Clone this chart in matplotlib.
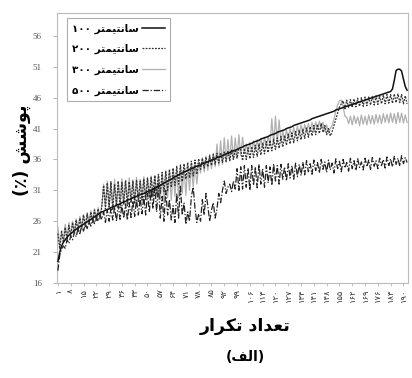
import matplotlib
matplotlib.use("Agg")
import matplotlib.pyplot as plt
from matplotlib.lines import Line2D

# ---------------- data ----------------
s100 = [19.5, 21.0, 22.0, 22.6, 23.0, 23.4, 23.7, 24.0, 24.2, 24.5,
        24.7, 24.9, 25.1, 25.3, 25.5, 25.7, 25.9, 26.1, 26.3, 26.5, 26.7, 26.9, 27.1, 27.3, 27.5,
        27.6, 27.8, 27.9, 28.0, 28.2, 28.3, 28.4, 28.6, 28.7, 28.8, 29.0, 29.1, 29.2, 29.4, 29.5,
        29.6, 29.8, 29.9, 30.0, 30.2, 30.3, 30.4, 30.5, 30.6, 30.8, 30.9, 31.0,
        31.2, 31.3, 31.5, 31.7, 31.8, 32.0, 32.2, 32.3, 32.5, 32.7, 32.8, 33.0, 33.2, 33.3, 33.5,
        33.7, 33.8, 34.0, 34.1, 34.2, 34.4, 34.5,
        34.6, 34.8, 34.9, 35.0, 35.1, 35.3, 35.4, 35.5, 35.6, 35.8, 35.9, 36.0, 36.1, 36.3, 36.4,
        36.5, 36.6, 36.8, 36.9, 37.0, 37.1, 37.3, 37.4, 37.5, 37.6, 37.8,
        37.9, 38.0, 38.2, 38.3, 38.4, 38.5, 38.6, 38.8, 38.9, 39.0, 39.1, 39.3, 39.4, 39.5, 39.6,
        39.7, 39.9, 40.0, 40.1, 40.2, 40.4, 40.5, 40.6, 40.7, 40.8, 41.0, 41.1, 41.2, 41.3, 41.5,
        41.6, 41.7, 41.8,
        41.9, 42.0, 42.1, 42.2, 42.3, 42.4, 42.6, 42.7, 42.8, 42.9, 43.0, 43.1, 43.2, 43.3, 43.4,
        43.5, 43.6, 43.7, 43.8, 44.0, 44.1, 44.2, 44.3, 44.4, 44.5,
        44.6, 44.7, 44.8, 44.9, 45.0, 45.1, 45.2, 45.3, 45.4, 45.5, 45.6, 45.7, 45.8, 45.9, 46.0,
        46.1, 46.2, 46.3, 46.4, 46.5, 46.6, 46.7, 46.8, 46.9, 47.0,
        47.4, 48.8, 50.4, 50.6, 50.6, 50.3, 49.0, 47.8, 47.2]

s200 = [24.0, 21.5, 24.5, 22.5, 25.0, 23.0, 25.3, 23.5, 25.8, 24.0,
        26.2, 24.3, 26.5, 24.8, 27.0, 25.0, 27.2, 25.4, 27.5, 25.8, 27.8, 26.0, 28.0, 26.4, 28.3,
        31.8, 28.0, 32.2, 28.3, 32.4, 27.8, 32.0, 28.5, 32.5, 28.2,
        32.3, 28.8, 32.6, 28.5, 32.4, 29.0, 32.5, 28.8, 32.7, 29.2,
        32.5, 29.4, 32.8, 29.5, 33.0, 29.8, 33.2, 30.0, 33.4, 30.3,
        33.6, 30.5, 33.9, 30.8, 34.1, 31.0, 34.4, 31.5, 34.6, 31.8,
        34.9, 32.0, 35.1, 32.4, 35.3, 32.8, 35.5, 33.0, 35.7, 33.3, 35.9, 33.6, 36.1,
        34.4, 36.2, 34.6, 36.4, 34.8, 36.6, 35.0, 36.8, 35.2, 37.0,
        35.4, 37.1, 35.5, 37.2, 35.7, 37.4, 35.8, 37.5, 36.0, 37.6, 36.2, 37.7,
        37.6, 35.8, 37.8, 36.0, 37.9, 36.1, 38.1, 36.3, 38.3, 36.5,
        38.5, 36.7, 38.7, 36.9, 38.9, 37.1, 39.1, 37.4, 39.3, 37.6,
        39.5, 37.8, 39.7, 38.0, 39.9, 38.3, 40.1, 38.5, 40.3, 38.7,
        40.5, 39.0, 40.7, 39.2, 40.9, 39.4, 41.1, 39.6, 41.3, 39.8,
        41.5, 40.0, 41.7, 40.2, 41.8, 40.4, 41.5, 40.0, 41.0, 39.8,
        40.5, 41.5, 42.5, 43.5, 44.5, 45.0, 45.5, 44.2, 45.6, 44.4,
        45.7, 44.4, 45.8, 44.5, 45.9, 44.6, 46.0, 44.6, 46.1, 44.7, 46.1, 44.8, 46.2, 44.8, 46.3, 44.9,
        46.3, 45.0, 46.4, 45.0, 46.5, 45.1, 46.5, 45.1, 46.6, 45.2, 46.6, 45.2, 46.5, 45.0, 46.3, 45.0]

s300 = [25.0, 22.0, 24.0, 23.0, 25.5, 22.8, 25.8, 23.6, 26.0, 24.2,
        26.4, 24.6, 26.8, 25.0, 27.1, 25.3, 27.4, 25.6, 27.7, 26.0,
        28.0, 26.3, 28.2, 26.6, 28.5,
        32.0, 28.4, 32.5, 28.0, 32.2, 28.6, 32.8, 28.3, 32.4, 29.0,
        32.9, 28.7, 32.6, 29.1, 33.0, 29.0, 32.7, 29.3, 33.1, 29.2,
        32.8, 29.5, 33.2, 29.6, 33.0, 29.8, 33.3, 29.9, 33.4, 30.0,
        33.5, 29.5, 33.6, 29.0, 33.8, 29.8, 34.0, 29.4, 34.2, 30.0,
        34.3, 29.8, 34.5, 30.5, 34.6, 30.2, 34.8, 31.0, 35.0, 31.5,
        35.2, 32.0, 35.5,
        33.8, 36.3, 34.0, 36.5, 34.2, 36.8, 34.5, 37.0, 34.8, 38.5,
        35.0, 39.0, 35.2, 39.5, 35.5, 39.2, 35.8, 39.8, 36.0, 39.5,
        36.3, 40.0, 36.6, 39.6, 37.0,
        38.5, 37.0, 38.8, 37.2, 39.0, 37.4, 39.2, 37.6, 39.4, 37.8,
        39.6, 38.0, 39.8, 38.2, 42.6, 38.4, 43.0, 38.6, 42.4, 38.8,
        40.6, 39.0, 40.8, 39.3, 41.0, 39.5, 41.2, 39.8, 41.4, 40.0,
        41.6, 40.2, 41.7, 40.4, 41.8, 40.5, 42.0, 40.6, 42.1, 40.8,
        42.2, 41.0, 42.0, 40.5, 41.6, 40.2, 41.0,
        41.5, 42.5, 43.8, 44.8, 45.5, 45.6, 44.5, 43.0, 42.8, 41.8,
        43.0, 41.6, 43.1, 41.8, 42.9, 41.5, 43.2, 41.7, 43.0, 41.6,
        43.2, 41.8, 43.1, 41.7, 43.3, 41.9, 43.2, 41.8, 43.4, 42.0,
        43.3, 41.9, 43.5, 42.0, 43.4, 41.8, 43.6, 42.0, 43.5, 41.9,
        43.2, 42.0]

s500 = [18.0, 20.5, 21.5, 22.0, 21.6, 23.0, 22.4, 23.6, 23.0, 24.2,
        23.5, 24.8, 24.0, 25.2, 24.4, 25.6, 24.8, 26.0, 25.2, 26.3,
        25.6, 26.7, 26.0, 27.0, 26.3,
        27.5, 25.8, 27.8, 26.0, 28.0, 26.2, 28.3, 26.0, 28.5, 26.3,
        28.6, 26.5, 28.8, 26.2, 29.0, 26.6, 29.3, 26.8, 29.5, 27.0,
        29.8, 27.2, 30.0, 27.0, 30.5, 27.5, 31.0,
        28.0, 31.5, 27.5, 32.0, 26.5, 30.0, 26.0, 31.0, 27.0, 29.5,
        26.2, 28.5, 25.8, 30.5, 26.5, 31.8, 27.0, 29.0, 25.5, 27.5,
        26.0, 30.0, 31.5,
        28.0, 25.8, 27.2, 26.0, 29.5, 27.0, 30.5, 28.5, 26.0, 27.8,
        29.0, 26.5, 28.0, 30.5, 29.0, 31.0, 32.5, 30.5, 31.5, 32.0,
        30.8, 32.5, 31.2,
        34.5, 31.0, 34.8, 31.2, 35.0, 31.5, 34.6, 31.0, 35.0, 31.8,
        34.8, 31.4, 35.2, 32.0, 34.5, 31.5, 35.0, 32.2, 34.8, 31.8,
        35.3, 32.5, 35.0, 32.0, 35.2, 32.8, 34.8, 32.5, 35.3, 33.0,
        35.0, 32.8, 35.4, 33.2, 35.2, 33.4,
        35.5, 33.5, 35.8, 34.0, 35.3, 33.6, 35.9, 34.2, 35.5, 33.8,
        36.0, 34.4, 35.6, 33.9, 35.9, 34.3, 35.4, 33.8, 36.1, 34.5,
        35.7, 34.0, 36.0, 34.6, 35.5, 34.1, 36.2, 34.5, 35.8, 34.2,
        36.1, 34.7, 35.6, 34.3, 36.2, 34.8, 35.9, 34.4, 36.3, 34.9,
        35.8, 34.5, 36.2, 35.0, 36.0, 34.6, 36.4, 35.0, 36.1, 34.8,
        36.5, 35.2, 36.2, 34.9, 36.6, 35.3, 36.3, 35.5]

n_points = 192
x_tick_values = list(range(1, n_points + 1, 7))
y_tick_values = [16, 21, 26, 31, 36, 41, 46, 51, 56]
legend_numbers = ["100", "200", "300", "500"]
legend_word = "سانتیمتر"
xlabel_words = ["تعداد", "تکرار"]
ylabel_word = "پوشش"
ylabel_unit = "(٪)"
caption_word = "الف"

for s in (s100, s200, s300, s500):
    assert len(s) == n_points, len(s)

# ---------------- simple Persian shaping (presentation forms) ----------------
FORMS = {
    'ا': ('\uFE8D', '\uFE8E', None, None),
    'د': ('\uFEA9', '\uFEAA', None, None),
    'ر': ('\uFEAD', '\uFEAE', None, None),
    'و': ('\uFEED', '\uFEEE', None, None),
    'ت': ('\uFE95', '\uFE96', '\uFE97', '\uFE98'),
    'س': ('\uFEB1', '\uFEB2', '\uFEB3', '\uFEB4'),
    'ش': ('\uFEB5', '\uFEB6', '\uFEB7', '\uFEB8'),
    'ن': ('\uFEE5', '\uFEE6', '\uFEE7', '\uFEE8'),
    'م': ('\uFEE1', '\uFEE2', '\uFEE3', '\uFEE4'),
    'ی': ('\uFBFC', '\uFBFD', '\uFBFE', '\uFBFF'),
    'ع': ('\uFEC9', '\uFECA', '\uFECB', '\uFECC'),
    'ک': ('\uFB8E', '\uFB8F', '\uFB90', '\uFB91'),
    'پ': ('\uFB56', '\uFB57', '\uFB58', '\uFB59'),
    'ل': ('\uFEDD', '\uFEDE', '\uFEDF', '\uFEE0'),
    'ف': ('\uFED1', '\uFED2', '\uFED3', '\uFED4'),
}


def dual(c):
    return c in FORMS and FORMS[c][2] is not None


def shape_word(w):
    out = []
    for k, c in enumerate(w):
        if c not in FORMS:
            out.append(c)
            continue
        prev_j = k > 0 and dual(w[k - 1])
        next_j = dual(c) and k + 1 < len(w) and w[k + 1] in FORMS
        iso, fin, ini, med = FORMS[c]
        if prev_j and next_j:
            out.append(med)
        elif prev_j:
            out.append(fin)
        elif next_j:
            out.append(ini)
        else:
            out.append(iso)
    return "".join(reversed(out))


def fa_digits(s):
    return str(s).translate(str.maketrans("0123456789", "۰۱۲۳۴۵۶۷۸۹"))


FA_FONT = ["DejaVu Sans"]
SERIF = ["Liberation Serif", "DejaVu Serif"]

# ---------------- figure ----------------
fig = plt.figure(figsize=(4.12, 3.78), dpi=100)
ax = fig.add_axes([57 / 412, 1 - 283 / 378, 351 / 412, 270 / 378])

xs = list(range(1, n_points + 1))
ax.plot(xs, s300, color="#b0b0b0", lw=0.9, ls="-", zorder=2)
ax.plot(xs, s500, color="#222222", lw=0.9, ls=(0, (5, 1.5, 1, 1.5)), zorder=3)
ax.plot(xs, s200, color="#333333", lw=0.9, ls=(0, (1.5, 1)), zorder=4)
ax.plot(xs, s100, color="#111111", lw=1.1, ls="-", zorder=5)

ax.set_xlim(0.5, n_points + 0.5)
ax.set_ylim(16, 59.7)
ax.set_yticks(y_tick_values)
ax.set_yticklabels([str(v) for v in y_tick_values], family=SERIF, fontsize=6.5, color="#555555")
ax.set_xticks(x_tick_values)
ax.set_xticklabels([fa_digits(v) for v in x_tick_values], rotation=90, family=FA_FONT,
                   fontsize=6, color="#333333")
ax.tick_params(axis="y", length=3, width=0.6, color="#aaaaaa", pad=8)
ax.tick_params(axis="x", length=2, width=0.5, color="#aaaaaa", pad=2)
for sp in ax.spines.values():
    sp.set_color("#bbbbbb")
    sp.set_linewidth(0.8)

handles = [
    Line2D([], [], color="#111111", lw=1.1, ls="-"),
    Line2D([], [], color="#333333", lw=0.9, ls=(0, (1.5, 1))),
    Line2D([], [], color="#b0b0b0", lw=0.9, ls="-"),
    Line2D([], [], color="#222222", lw=0.9, ls=(0, (5, 1.5, 1, 1.5))),
]
labels = [fa_digits(n) + " " + shape_word(legend_word) for n in legend_numbers]
leg = ax.legend(handles, labels, loc="upper left", bbox_to_anchor=(0.013, 1.0),
                markerfirst=False, frameon=True, fancybox=False, handlelength=2.2,
                borderpad=0.5, labelspacing=1.0, handletextpad=0.3,
                prop={"family": FA_FONT, "size": 7.5, "weight": "bold"})
leg.get_frame().set_edgecolor("#999999")
leg.get_frame().set_linewidth(0.8)

ylabel_text = ylabel_unit + " " + shape_word(ylabel_word)
fig.text(22 / 412, 1 - 150 / 378, ylabel_text, rotation=90, ha="center", va="center",
         family=FA_FONT, fontsize=12.5, weight="bold")
xlabel_text = " ".join(shape_word(w) for w in reversed(xlabel_words))
fig.text(245 / 412, 1 - 326 / 378, xlabel_text, ha="center", va="center",
         family=FA_FONT, fontsize=12.5, weight="bold")
fig.text(245 / 412, 1 - 357 / 378, "(" + shape_word(caption_word) + ")", ha="center",
         va="center", family=FA_FONT, fontsize=10, weight="bold")

fig.savefig("out.png", dpi=100, facecolor="white")
